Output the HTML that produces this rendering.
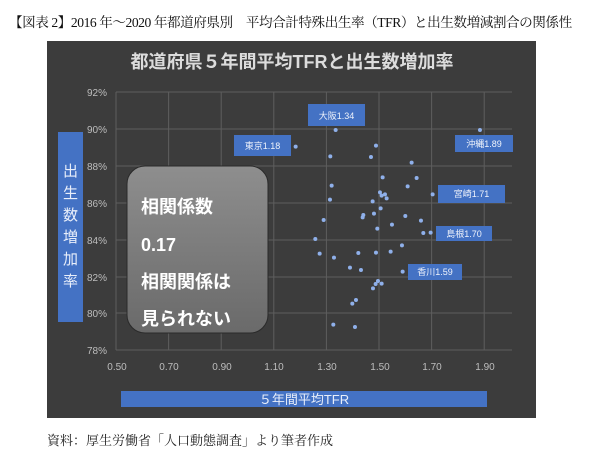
<!DOCTYPE html>
<html><head><meta charset="utf-8"><style>
body{margin:0;width:600px;height:456px;background:#fff;overflow:hidden;position:relative;font-family:"Liberation Sans","Noto Sans CJK JP",sans-serif}
.hdr{position:absolute;left:9px;top:11px;font-family:"Liberation Serif","Noto Serif CJK SC",serif;font-size:13.6px;color:#111;white-space:nowrap;letter-spacing:-0.45px}
.cap{position:absolute;left:47px;top:430px;font-family:"Liberation Serif","Noto Serif CJK SC",serif;font-size:13px;color:#222}
</style></head><body>
<div class="hdr">【図表 2】2016 年～2020 年都道府県別　平均合計特殊出生率（TFR）と出生数増減割合の関係性</div>
<svg width="600" height="456" style="position:absolute;left:0;top:0">
<rect x="47" y="41" width="489" height="377" fill="#3c3c3c"/>
<text x="292" y="68" fill="#dcdcdc" font-size="18" font-weight="bold" text-anchor="middle" font-family="Liberation Sans, Noto Sans CJK JP, sans-serif">都道府県５年間平均TFRと出生数増加率</text>
<g stroke="#5e5e5e" stroke-width="1">
<line x1="116" y1="92" x2="512" y2="92"/><line x1="116" y1="129" x2="512" y2="129"/><line x1="116" y1="166" x2="512" y2="166"/><line x1="116" y1="203" x2="512" y2="203"/><line x1="116" y1="240" x2="512" y2="240"/><line x1="116" y1="277" x2="512" y2="277"/><line x1="116" y1="313" x2="512" y2="313"/><line x1="116" y1="350" x2="512" y2="350"/>
<line x1="116" y1="92" x2="116" y2="350"/><line x1="168.6" y1="92" x2="168.6" y2="350"/><line x1="221.2" y1="92" x2="221.2" y2="350"/><line x1="273.8" y1="92" x2="273.8" y2="350"/><line x1="326.4" y1="92" x2="326.4" y2="350"/><line x1="379" y1="92" x2="379" y2="350"/><line x1="431.6" y1="92" x2="431.6" y2="350"/><line x1="484.2" y1="92" x2="484.2" y2="350"/>
</g>
<g fill="#bdbdbd" font-size="10" text-anchor="end">
<text x="107" y="96">92%</text><text x="107" y="133">90%</text><text x="107" y="170">88%</text><text x="107" y="207">86%</text><text x="107" y="244">84%</text><text x="107" y="281">82%</text><text x="107" y="317">80%</text><text x="107" y="354">78%</text>
</g>
<g fill="#bdbdbd" font-size="10" text-anchor="middle">
<text x="117" y="370">0.50</text><text x="169" y="370">0.70</text><text x="222" y="370">0.90</text><text x="274" y="370">1.10</text><text x="327" y="370">1.30</text><text x="380" y="370">1.50</text><text x="432" y="370">1.70</text><text x="485" y="370">1.90</text>
</g>
<rect x="58" y="132" width="25" height="190" fill="#4472c4"/>
<g fill="#e8eefa" font-size="15" text-anchor="middle">
<text x="70.5" y="176">出</text><text x="70.5" y="198">生</text><text x="70.5" y="220">数</text><text x="70.5" y="242">増</text><text x="70.5" y="264">加</text><text x="70.5" y="286">率</text>
</g>
<rect x="121" y="391" width="366" height="16" fill="#4472c4"/>
<text x="304" y="404" fill="#e8eefa" font-size="13" text-anchor="middle">５年間平均TFR</text>
<defs><linearGradient id="g" x1="0" y1="0" x2="0" y2="1"><stop offset="0" stop-color="#8e8e8e"/><stop offset="1" stop-color="#6a6a6a"/></linearGradient></defs>
<rect x="127" y="166" width="141" height="167" rx="18" fill="url(#g)" stroke="#2a2a2a" stroke-width="1"/>
<g fill="#fff" font-size="18" font-weight="bold">
<text x="141" y="213">相関係数</text><text x="141" y="251">0.17</text><text x="141" y="288">相関関係は</text><text x="141" y="325">見られない</text>
</g>
<g transform="translate(110,80) scale(0.3333)" fill="#8fb0ea">
<circle cx="677" cy="150" r="6"/><circle cx="1110" cy="150" r="6"/><circle cx="557" cy="200" r="6"/><circle cx="798" cy="197" r="6"/><circle cx="661" cy="229" r="6"/><circle cx="783" cy="231" r="6"/><circle cx="905" cy="248" r="6"/><circle cx="818" cy="292" r="6"/><circle cx="920" cy="294" r="6"/><circle cx="665" cy="317" r="6"/><circle cx="893" cy="319" r="6"/><circle cx="810" cy="337" r="6"/><circle cx="825" cy="343" r="6"/><circle cx="968" cy="343" r="6"/><circle cx="815" cy="347" r="6"/><circle cx="830" cy="355" r="6"/><circle cx="660" cy="359" r="6"/><circle cx="788" cy="364" r="6"/><circle cx="812" cy="385" r="6"/><circle cx="792" cy="401" r="6"/><circle cx="760" cy="405" r="6"/><circle cx="758" cy="412" r="6"/><circle cx="886" cy="408" r="6"/><circle cx="641" cy="420" r="6"/><circle cx="933" cy="422" r="6"/><circle cx="846" cy="434" r="6"/><circle cx="802" cy="446" r="6"/><circle cx="940" cy="459" r="6"/><circle cx="962" cy="458" r="6"/><circle cx="616" cy="477" r="6"/><circle cx="876" cy="496" r="6"/><circle cx="629" cy="521" r="6"/><circle cx="672" cy="533" r="6"/><circle cx="745" cy="519" r="6"/><circle cx="798" cy="518" r="6"/><circle cx="842" cy="515" r="6"/><circle cx="720" cy="563" r="6"/><circle cx="753" cy="570" r="6"/><circle cx="878" cy="575" r="6"/><circle cx="804" cy="603" r="6"/><circle cx="797" cy="612" r="6"/><circle cx="815" cy="611" r="6"/><circle cx="789" cy="625" r="6"/><circle cx="727" cy="671" r="6"/><circle cx="738" cy="660" r="6"/><circle cx="670" cy="734" r="6"/><circle cx="735" cy="741" r="6"/>
</g>
<g fill="#4472c4">
<rect x="308" y="104" width="57" height="22"/><rect x="234" y="135" width="57" height="21"/><rect x="455" y="135" width="58" height="17"/><rect x="438" y="185" width="67" height="18"/><rect x="436" y="226" width="56" height="15"/><rect x="408" y="264" width="54" height="16"/>
</g>
<g fill="#eef2fb" font-size="9" text-anchor="middle">
<text x="336.5" y="119">大阪1.34</text><text x="262.5" y="149">東京1.18</text><text x="484" y="147">沖縄1.89</text><text x="471.5" y="197">宮崎1.71</text><text x="464" y="237">島根1.70</text><text x="435" y="275">香川1.59</text>
</g>
</svg>
<div class="cap">資料：厚生労働省「人口動態調査」より筆者作成</div>
</body></html>
